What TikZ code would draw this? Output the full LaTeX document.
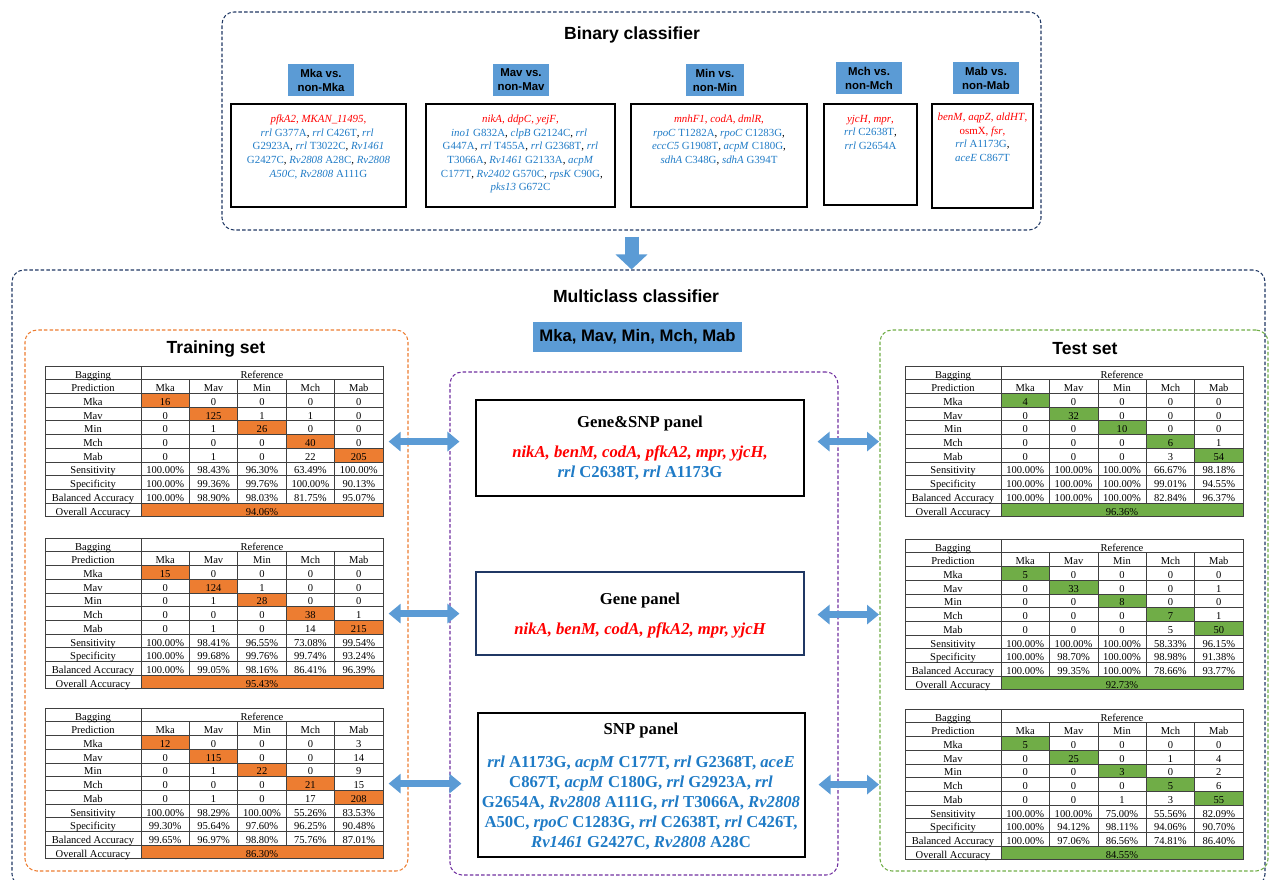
\documentclass[tikz,border=0pt]{standalone}
\usepackage{fontspec}
\setmainfont{Liberation Serif}
\setsansfont{Liberation Sans}
\usepackage{tikz}
\usetikzlibrary{positioning,fit,arrows.meta}

\definecolor{lblblue}{HTML}{5B9BD5}
\definecolor{snpblue}{HTML}{1F7BC6}
\definecolor{genered}{HTML}{FF0000}
\definecolor{navy}{HTML}{203864}
\definecolor{trainor}{HTML}{ED7D31}
\definecolor{testgr}{HTML}{70AD47}
\definecolor{panelpur}{HTML}{7030A0}

% table grid (px)
\newcommand\tfw{96}
\newcommand\tcw{48.4}
\newcommand\trh{13.7}

% red gene / blue snp
\newcommand\gn[1]{\textcolor{genered}{\textit{#1}}}
\newcommand\sn[2]{\textcolor{snpblue}{\textit{#1} #2}}

\tikzset{
  grpbox/.style={rounded corners=0.24cm, dash pattern=on 2pt off 1.2pt, line width=0.6pt, inner sep=0},
  lbl/.style={fill=lblblue, inner sep=0},
  lbltxt/.style={align=center, inner sep=0, font=\sffamily\bfseries\fontsize{6.5}{8}\selectfont},
  genebox/.style={draw=black, line width=0.6pt, inner sep=0},
  bintxt/.style={anchor=north, align=center, inner sep=0, font=\fontsize{6.2}{7.8}\selectfont},
  title/.style={font=\sffamily\bfseries\fontsize{10}{12}\selectfont},
  paneltitle/.style={font=\bfseries\fontsize{9.5}{11}\selectfont},
  paneltxt/.style={align=center, font=\bfseries\fontsize{9.5}{11.3}\selectfont},
  tabtxt/.style={inner sep=0, text height=1.5ex, text depth=0.2ex, font=\fontsize{6}{7}\selectfont},
  tabline/.style={draw=black!75, line width=0.35pt},
  tabframe/.style={minimum width=6.76cm, minimum height=3.01cm, inner sep=0, anchor=north west},
  fatarrow/.style={draw=lblblue, line width=0.14cm,
    {Triangle[length=0.24cm,width=0.38cm]}-{Triangle[length=0.24cm,width=0.38cm]}},
  fatdown/.style={draw=lblblue, line width=0.28cm, -{Triangle[length=0.3cm,width=0.62cm]}}
}

% confusion table: name, top-left, fill, rows, overall
\newcommand\conftable[5]{%
  \begin{scope}[shift={#2}]
    \node[tabframe] (#1) at (0,0) {};
    \foreach \k in {0,...,4}
      \fill[#3] ({\tfw+\k*\tcw},{(\k+2)*\trh}) rectangle ++(\tcw,\trh);
    \fill[#3] (\tfw,{10*\trh}) rectangle ({\tfw+5*\tcw},{11*\trh});
    \foreach \r in {0,...,11}
      \draw[tabline] (0,{\r*\trh}) -- ({\tfw+5*\tcw},{\r*\trh});
    \foreach \c in {0,\tfw,\tfw+5*\tcw}
      \draw[tabline] ({\c},0) -- ({\c},{11*\trh});
    \foreach \k in {1,...,4}
      \draw[tabline] ({\tfw+\k*\tcw},\trh) -- ({\tfw+\k*\tcw},{10*\trh});
    \node[tabtxt] at ({\tfw/2},{0.5*\trh}) {Bagging};
    \node[tabtxt] at ({\tfw+2.5*\tcw},{0.5*\trh}) {Reference};
    \node[tabtxt] at ({\tfw/2},{1.5*\trh}) {Prediction};
    \foreach \lab [count=\k] in {Mka,Mav,Min,Mch,Mab} {
      \node[tabtxt] at ({\tfw+(\k-0.5)*\tcw},{1.5*\trh}) {\lab};
      \node[tabtxt] at ({\tfw/2},{(\k+1.5)*\trh}) {\lab};
    }
    \foreach \lab [count=\r from 7] in {Sensitivity,Specificity,Balanced Accuracy,Overall Accuracy}
      \node[tabtxt] at ({\tfw/2},{(\r+0.5)*\trh}) {\lab};
    \foreach \row [count=\r from 2] in {#4}
      \foreach \v [count=\k] in \row
        \node[tabtxt] at ({\tfw+(\k-0.5)*\tcw},{(\r+0.5)*\trh}) {\v\ifnum\r>6\%\fi};
    \node[tabtxt] at ({\tfw+2.5*\tcw},{10.5*\trh}) {#5\%};
  \end{scope}}

\begin{document}
\begin{tikzpicture}[x=0.02cm, y=-0.02cm]
  \useasboundingbox (0,0) rectangle (1270,879);

  % binary classifier
  \node[grpbox, draw=navy, fit={(222,12) (1041,230)}] (binary) {};
  \node[title] at (632,35) {Binary classifier};

  \node[lbl, fit={(288,64) (354,96)}] (mkalbl) {};
  \node[lbl, fit={(493,64) (549,96)}] (mavlbl) {};
  \node[lbl, fit={(686,64) (744,96)}] (minlbl) {};
  \node[lbl, fit={(836,62) (902,94)}] (mchlbl) {};
  \node[lbl, fit={(953,62) (1019,94)}] (mablbl) {};
  \node[lbltxt] at (mkalbl) {Mka vs.\\non-Mka};
  \node[lbltxt] at (mavlbl) {Mav vs.\\non-Mav};
  \node[lbltxt] at (minlbl) {Min vs.\\non-Min};
  \node[lbltxt] at (mchlbl) {Mch vs.\\non-Mch};
  \node[lbltxt] at (mablbl) {Mab vs.\\non-Mab};

  \node[genebox, fit={(231,104) (406,207)}] (mkabox) {};
  \node[genebox, fit={(426,104) (615,207)}] (mavbox) {};
  \node[genebox, fit={(631,104) (807,207)}] (minbox) {};
  \node[genebox, fit={(824,104) (917,205)}] (mchbox) {};
  \node[genebox, fit={(932,104) (1033,208)}] (mabbox) {};

  \node[bintxt, below=0.22cm of mkabox.north] {\gn{pfkA2}\textcolor{genered}{, }\gn{MKAN\_11495}\textcolor{genered}{,}\\
    \sn{rrl}{G377A}, \sn{rrl}{C426T}, \sn{rrl}{}\\
    \sn{}{G2923A}, \sn{rrl}{T3022C}, \sn{Rv1461}{}\\
    \sn{}{G2427C}, \sn{Rv2808}{A28C}, \sn{Rv2808}{}\\
    \textcolor{snpblue}{\textit{A50C},} \sn{Rv2808}{A111G}};
  \node[bintxt, below=0.22cm of mavbox.north] {\gn{nikA}\textcolor{genered}{, }\gn{ddpC}\textcolor{genered}{, }\gn{yejF}\textcolor{genered}{,}\\
    \sn{ino1}{G832A}, \sn{clpB}{G2124C}, \sn{rrl}{}\\
    \sn{}{G447A}, \sn{rrl}{T455A}, \sn{rrl}{G2368T}, \sn{rrl}{}\\
    \sn{}{T3066A}, \sn{Rv1461}{G2133A}, \sn{acpM}{}\\
    \sn{}{C177T}, \sn{Rv2402}{G570C}, \sn{rpsK}{C90G},\\
    \sn{pks13}{G672C}};
  \node[bintxt, below=0.22cm of minbox.north] {\gn{mnhF1}\textcolor{genered}{, }\gn{codA}\textcolor{genered}{, }\gn{dmlR}\textcolor{genered}{,}\\
    \sn{rpoC}{T1282A}, \sn{rpoC}{C1283G},\\
    \sn{eccC5}{G1908T}, \sn{acpM}{C180G},\\
    \sn{sdhA}{C348G}, \sn{sdhA}{G394T}};
  \node[bintxt, below=0.22cm of mchbox.north] {\gn{yjcH}\textcolor{genered}{, }\gn{mpr}\textcolor{genered}{,}\\
    \sn{rrl}{C2638T},\\
    \sn{rrl}{G2654A}};
  \node[bintxt, below=0.18cm of mabbox.north] {\gn{benM}\textcolor{genered}{, }\gn{aqpZ}\textcolor{genered}{, }\gn{aldHT}\textcolor{genered}{,}\\
    \textcolor{genered}{osmX, }\gn{fsr}\textcolor{genered}{,}\\
    \sn{rrl}{A1173G},\\
    \sn{aceE}{C867T}};

  % multiclass classifier
  \node[grpbox, draw=navy, fit={(12,270) (1265,886)}] (multi) {};
  \draw[fatdown, shorten <=0.12cm] (binary.south) -- (binary.south |- multi.north);
  \node[title] at (636,296) {Multiclass classifier};
  \node[lbl, fit={(533,322) (742,352)}] (classes) {};
  \node[lbltxt, font=\sffamily\bfseries\fontsize{9.5}{11}\selectfont] at (classes) {Mka, Mav, Min, Mch, Mab};

  \node[grpbox, draw=trainor, fit={(25,330) (408,871)}] (train) {};
  \node[title] at (216,349) {Training set};
  \node[grpbox, draw=testgr, fit={(880,330) (1268,871)}] (test) {};
  \node[title] at (1085,349) {Test set};
  \node[grpbox, draw=panelpur, fit={(450,372) (838,875)}] (panels) {};

  % panels
  \node[genebox, fit={(476,400) (804,496)}] (gsnp) {};
  \node[paneltitle] at (640,423) {Gene\&SNP panel};
  \node[paneltxt] at (640,463) {\textcolor{genered}{\itshape nikA, benM, codA, pfkA2, mpr, yjcH,}\\
    \textcolor{snpblue}{\textit{rrl} C2638T, \textit{rrl} A1173G}};

  \node[genebox, draw=navy, fit={(476,572) (804,655)}] (gene) {};
  \node[paneltitle] at (640,600) {Gene panel};
  \node[paneltxt] at (640,630) {\textcolor{genered}{\itshape nikA, benM, codA, pfkA2, mpr, yjcH}};

  \node[genebox, fit={(478,713) (805,857)}] (snp) {};
  \node[paneltitle] at (641,730) {SNP panel};
  \node[paneltxt, text=snpblue, anchor=north] at (641,750) {\textit{rrl} A1173G, \textit{acpM} C177T, \textit{rrl} G2368T, \textit{aceE}\\
    C867T, \textit{acpM} C180G, \textit{rrl} G2923A, \textit{rrl}\\
    G2654A, \textit{Rv2808} A111G, \textit{rrl} T3066A, \textit{Rv2808}\\
    A50C, \textit{rpoC} C1283G, \textit{rrl} C2638T, \textit{rrl} C426T,\\
    \textit{Rv1461} G2427C, \textit{Rv2808} A28C};

  % training tables
  \conftable{tr1}{(45,366)}{trainor}{{16,0,0,0,0},{0,125,1,1,0},{0,1,26,0,0},{0,0,0,40,0},{0,1,0,22,205},
    {100.00,98.43,96.30,63.49,100.00},{100.00,99.36,99.76,100.00,90.13},{100.00,98.90,98.03,81.75,95.07}}{94.06}
  \conftable{tr2}{(45,538)}{trainor}{{15,0,0,0,0},{0,124,1,0,0},{0,1,28,0,0},{0,0,0,38,1},{0,1,0,14,215},
    {100.00,98.41,96.55,73.08,99.54},{100.00,99.68,99.76,99.74,93.24},{100.00,99.05,98.16,86.41,96.39}}{95.43}
  \conftable{tr3}{(45,708)}{trainor}{{12,0,0,0,3},{0,115,0,0,14},{0,1,22,0,9},{0,0,0,21,15},{0,1,0,17,208},
    {100.00,98.29,100.00,55.26,83.53},{99.30,95.64,97.60,96.25,90.48},{99.65,96.97,98.80,75.76,87.01}}{86.30}

  % test tables
  \conftable{te1}{(905,366)}{testgr}{{4,0,0,0,0},{0,32,0,0,0},{0,0,10,0,0},{0,0,0,6,1},{0,0,0,3,54},
    {100.00,100.00,100.00,66.67,98.18},{100.00,100.00,100.00,99.01,94.55},{100.00,100.00,100.00,82.84,96.37}}{96.36}
  \conftable{te2}{(905,539)}{testgr}{{5,0,0,0,0},{0,33,0,0,1},{0,0,8,0,0},{0,0,0,7,1},{0,0,0,5,50},
    {100.00,100.00,100.00,58.33,96.15},{100.00,98.70,100.00,98.98,91.38},{100.00,99.35,100.00,78.66,93.77}}{92.73}
  \conftable{te3}{(905,709)}{testgr}{{5,0,0,0,0},{0,25,0,1,4},{0,0,3,0,2},{0,0,0,5,6},{0,0,1,3,55},
    {100.00,100.00,75.00,55.56,82.09},{100.00,94.12,98.11,94.06,90.70},{100.00,97.06,86.56,74.81,86.40}}{84.55}

  % arrows
  \draw[fatarrow, shorten <=0.1cm, shorten >=0.32cm] (tr1.east) -- (tr1.east -| gsnp.west);
  \draw[fatarrow, shorten <=0.1cm, shorten >=0.32cm] (tr2.east) -- (tr2.east -| gene.west);
  \draw[fatarrow, shorten <=0.1cm, shorten >=0.32cm] (tr3.east) -- (tr3.east -| snp.west);
  \draw[fatarrow, shorten <=0.26cm, shorten >=0.52cm] (gsnp.east |- te1.west) -- (te1.west);
  \draw[fatarrow, shorten <=0.26cm, shorten >=0.52cm] (gene.east |- te2.west) -- (te2.west);
  \draw[fatarrow, shorten <=0.26cm, shorten >=0.52cm] (snp.east |- te3.west) -- (te3.west);
\end{tikzpicture}
\end{document}
